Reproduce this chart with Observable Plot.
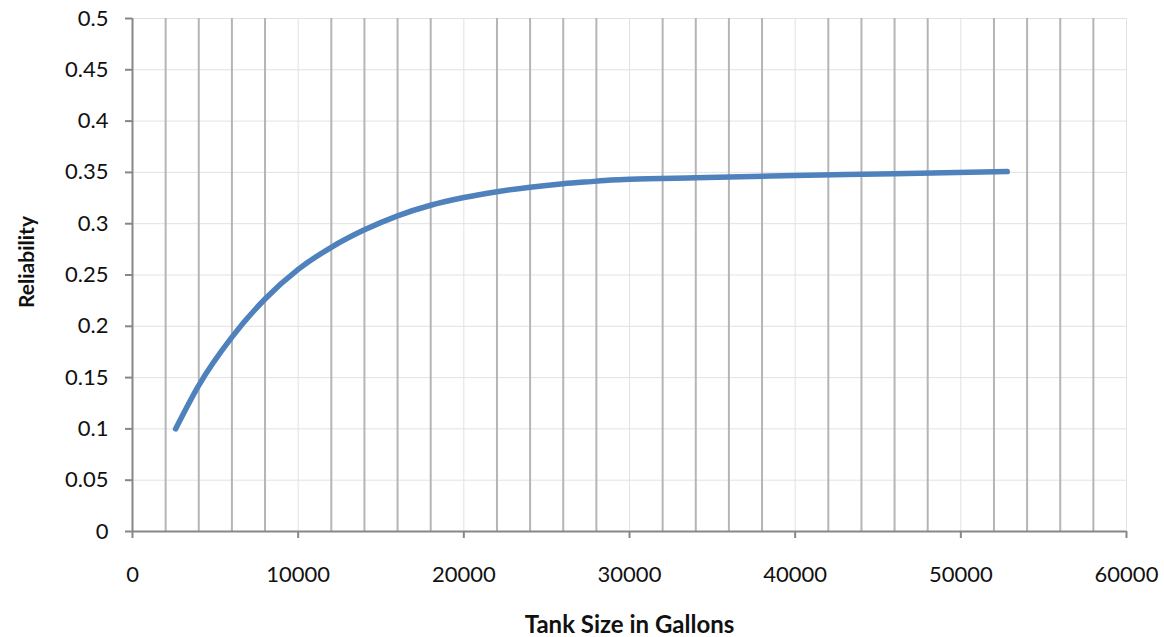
<!DOCTYPE html>
<html>
<head>
<meta charset="utf-8">
<script src="https://cdn.jsdelivr.net/npm/d3@7"></script>
<script src="https://cdn.jsdelivr.net/npm/@observablehq/plot@0.6"></script>
<style>
  html, body { margin: 0; padding: 0; background: #fff; }
  #chart svg { display: block; }
</style>
</head>
<body>
<div id="chart"></div>
<script>
// Data
const tankSize    = [2600, 4000, 6000, 8000, 10000, 12000, 14000, 16000, 18000, 20000, 22000, 24000, 26000, 28000, 28700, 30000, 34000, 40000, 46000, 52800];
const reliability = [0.100, 0.1425, 0.1895, 0.2266, 0.2555, 0.2770, 0.2940, 0.3077, 0.3180, 0.3255, 0.3312, 0.3356, 0.3390, 0.3415, 0.3424, 0.3433, 0.3448, 0.3469, 0.3488, 0.3508];

// Tick values
const yTicks      = [0, 0.05, 0.1, 0.15, 0.2, 0.25, 0.3, 0.35, 0.4, 0.45, 0.5];
const xMajorTicks = [0, 10000, 20000, 30000, 40000, 50000, 60000];
const xMinorTicks = [2000, 4000, 6000, 8000, 12000, 14000, 16000, 18000, 22000, 24000, 26000, 28000,
                     32000, 34000, 36000, 38000, 42000, 44000, 46000, 48000, 52000, 54000, 56000, 58000];

const xTitle = "Tank Size in Gallons";
const yTitle = "Reliability";

const data = tankSize.map((x, i) => ({x, y: reliability[i]}));

const axisColor = "#878787";

const chart = Plot.plot({
  width: 1164,
  height: 637,
  marginLeft: 132,
  marginRight: 38,
  marginTop: 18,
  marginBottom: 106,
  style: {fontFamily: "Lato", fontSize: "22px", color: "#111", background: "#fff"},
  x: {domain: [0, 60000]},
  y: {domain: [0, 0.5]},
  marks: [
    Plot.ruleY(yTicks.slice(1), {stroke: "#e2e2e2", strokeWidth: 1}),
    Plot.ruleX(xMajorTicks.slice(1), {stroke: "#e2e2e2", strokeWidth: 1}),
    Plot.ruleX(xMinorTicks, {stroke: "#b5b5b5", strokeWidth: 2}),
    Plot.ruleX([0], {stroke: axisColor, strokeWidth: 2}),
    Plot.ruleY([0], {stroke: axisColor, strokeWidth: 2}),
    Plot.axisY({ticks: yTicks, tickSize: 7, tickPadding: 17, stroke: axisColor, strokeWidth: 2,
                tickFormat: d => String(+d.toFixed(2)), label: null, fill: "#111"}),
    Plot.axisX({ticks: xMajorTicks, tickSize: 7, tickPadding: 28, stroke: axisColor, strokeWidth: 2,
                tickFormat: d => String(d), label: null, fill: "#111"}),
    Plot.line(data, {x: "x", y: "y", stroke: "#4f81bd", strokeWidth: 5.5, strokeLinecap: "round",
                     strokeLinejoin: "round", curve: "monotone-x"}),
    Plot.text([xTitle], {frameAnchor: "bottom", dy: 101, lineAnchor: "bottom", fontWeight: "bold",
                         fontSize: 24, fill: "#111"}),
    Plot.text([yTitle], {frameAnchor: "left", rotate: -90, dx: -99, dy: -13, lineAnchor: "bottom",
                         textAnchor: "middle", fontWeight: "bold", fontSize: 21, fill: "#111"})
  ]
});

document.getElementById("chart").appendChild(chart);
</script>
</body>
</html>
